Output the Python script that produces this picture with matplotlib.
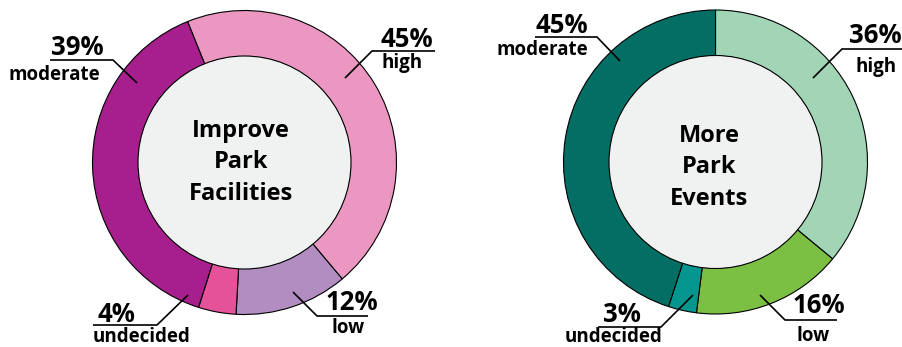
import matplotlib.pyplot as plt
from matplotlib.patches import Circle

W, H = 903, 347

# survey answers, clockwise from the top boundary
groups = ["high", "low", "undecided", "moderate"]
facilities = [45, 12, 4, 39]
events = [36, 16, 3, 45]

facility_colors = ["#EB97C1", "#B28DC1", "#E6529A", "#A71F8C"]
event_colors = ["#A1D5B5", "#7BBF43", "#03968E", "#036E63"]

plt.rcParams['font.family'] = ['Open Sans', 'DejaVu Sans']
plt.rcParams['font.weight'] = 'bold'

fig = plt.figure(figsize=(W / 100, H / 100), dpi=100)
ax = fig.add_axes([0, 0, 1, 1])


def fy(y):
    # layout is given in pixels from the top
    return H - y


def donut(values, colors, cx, cy, start, title, title_x, title_y):
    ax.pie(values, colors=colors, startangle=start, counterclock=False,
           radius=152, center=(cx, fy(cy)),
           wedgeprops=dict(width=46, edgecolor='black', linewidth=0.8))
    ax.add_patch(Circle((cx, fy(cy)), 106.5, facecolor='#F0F2F1',
                        edgecolor='black', linewidth=0.8, zorder=3))
    for line, by in zip(title, title_y):
        ax.text(title_x, fy(by), line, ha='center', va='baseline',
                fontsize=17, fontweight='bold', zorder=4)


def callout(value, name, pct_xy, name_xy, path, pct_ha='center'):
    xs = [p[0] for p in path]
    ys = [fy(p[1]) for p in path]
    ax.plot(xs, ys, color='black', linewidth=1.2, zorder=5,
            solid_capstyle='butt')
    ax.text(pct_xy[0], fy(pct_xy[1]), f"{value}%", ha=pct_ha, va='baseline',
            fontsize=18.5, fontweight='bold', zorder=5)
    ax.text(name_xy[0], fy(name_xy[1]), name, ha='center', va='baseline',
            fontsize=13.5, fontweight='bold', zorder=5)


donut(facilities, facility_colors, 244.5, 162.5, 112,
      ["Improve", "Park", "Facilities"], 241, [137, 168, 200])
donut(events, event_colors, 715.5, 162, 90,
      ["More", "Park", "Events"], 709, [142, 173, 205])

# left chart callouts
callout(facilities[3], groups[3], (77.5, 55), (54, 80),
        [(50, 60), (113, 60), (137, 83)])
callout(facilities[0], groups[0], (407, 47), (402, 68),
        [(435, 51), (372, 51), (345, 78)])
callout(facilities[1], groups[1], (351.5, 310), (348.5, 333),
        [(368, 316), (317, 316), (293, 292)])
callout(facilities[2], groups[2], (116, 322), (141.5, 342),
        [(93, 325), (157, 325), (188, 295)])

# right chart callouts
callout(events[3], groups[3], (561.5, 33), (542.5, 55),
        [(535, 37), (597, 37), (620, 61)])
callout(events[0], groups[0], (849, 43), (876.5, 72),
        [(903, 49), (842, 49), (813, 78)], pct_ha='left')
callout(events[1], groups[1], (819, 313), (813.5, 341),
        [(837, 320), (785, 320), (760, 295)])
callout(events[2], groups[2], (621.5, 322), (613.5, 342),
        [(598, 327), (661, 327), (693, 295)])

ax.set_xlim(0, W)
ax.set_ylim(0, H)
ax.set_aspect('auto')
ax.axis('off')

fig.savefig('out.png', dpi=100, facecolor='white')
